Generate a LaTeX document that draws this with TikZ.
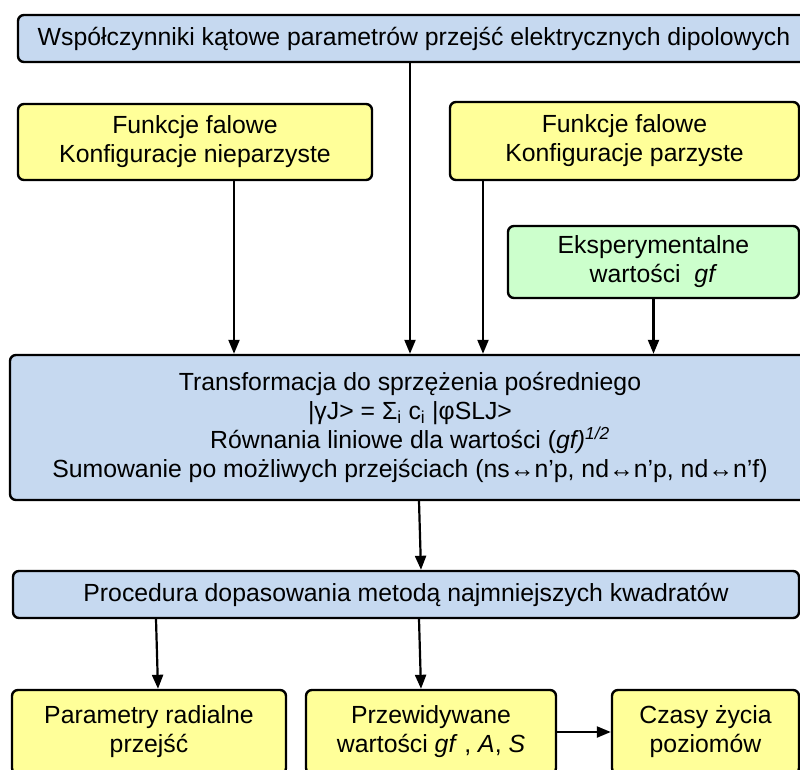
\documentclass[tikz,border=0pt]{standalone}
\usepackage{fontspec}
\setmainfont{Liberation Sans}
\usetikzlibrary{arrows.meta}
\definecolor{boxblue}{RGB}{198,217,240}
\definecolor{boxyellow}{RGB}{255,255,153}
\definecolor{boxgreen}{RGB}{204,255,204}
\tikzset{
  box/.style={draw=black, line width=2.4pt, rounded corners=6pt, align=center,
    inner sep=0pt, font=\fontsize{24.8}{29}\selectfont},
  bluebox/.style={box, fill=boxblue},
  yellowbox/.style={box, fill=boxyellow},
  greenbox/.style={box, fill=boxgreen},
  arr/.style={line width=2.2pt, -{Triangle[length=14pt,width=11pt]}}
}
\begin{document}
\begin{tikzpicture}[x=1pt, y=-1pt]
        \useasboundingbox (0,0) rectangle (800,770);
        \clip (0,0) rectangle (800,770);

        % Input boxes
        \node[bluebox, minimum width=792pt, minimum height=47pt] (wsp) at (414,38.5)
            {Współczynniki kątowe parametrów przejść elektrycznych dipolowych};
        \node[yellowbox, minimum width=354pt, minimum height=76pt] (npar) at (195,142)
            {Funkcje falowe\\Konfiguracje nieparzyste};
        \node[yellowbox, minimum width=349pt, minimum height=78pt] (par) at (624.5,141)
            {Funkcje falowe\\Konfiguracje parzyste};
        \node[greenbox, minimum width=291pt, minimum height=72pt] (eksp) at (653.5,262)
            {Eksperymentalne\\wartości \ \textit{gf}};

        % Transformation and fit
        \node[bluebox, minimum width=800pt, minimum height=145pt] (trans) at (410,427.5)
            {Transformacja do sprzężenia pośredniego\\
             |γJ> = Σ\textsubscript{i} c\textsubscript{i} |φSLJ>\\
             Równania liniowe dla wartości (\textit{gf)}\textsuperscript{\textit{1/2}}\\
             Sumowanie po możliwych przejściach (ns↔n’p, nd↔n’p, nd↔n’f)};
        \node[bluebox, minimum width=786pt, minimum height=47pt] (proc) at (406,594.5)
            {Procedura dopasowania metodą najmniejszych kwadratów};

        % Results
        \node[yellowbox, minimum width=274pt, minimum height=84pt] (rad) at (149,732)
            {Parametry radialne\\przejść};
        \node[yellowbox, minimum width=250pt, minimum height=84pt] (przew) at (431,732)
            {Przewidywane\\wartości \textit{gf} , \textit{A}, \textit{S}};
        \node[yellowbox, minimum width=187pt, minimum height=84pt] (czasy) at (705.5,732)
            {Czasy życia\\poziomów};

        % Connectors
        \draw[arr] ([xshift=-4pt]wsp.south) -- ([xshift=-4pt]wsp.south |- trans.north);
        \draw[arr] ([xshift=39pt]npar.south) -- ([xshift=39pt]npar.south |- trans.north);
        \draw[arr] ([xshift=-141.5pt]par.south) -- ([xshift=-141.5pt]par.south |- trans.north);
        \draw[arr] (eksp.south) -- (eksp.south |- trans.north);
        \draw[arr] ([xshift=9pt]trans.south) -- ([xshift=15pt]proc.north);
        \draw[arr] ([xshift=-250pt]proc.south) -- ([xshift=9pt]rad.north);
        \draw[arr] ([xshift=13pt]proc.south) -- ([xshift=-10pt]przew.north);
        \draw[arr] (przew.east) -- (czasy.west);
\end{tikzpicture}
\end{document}
